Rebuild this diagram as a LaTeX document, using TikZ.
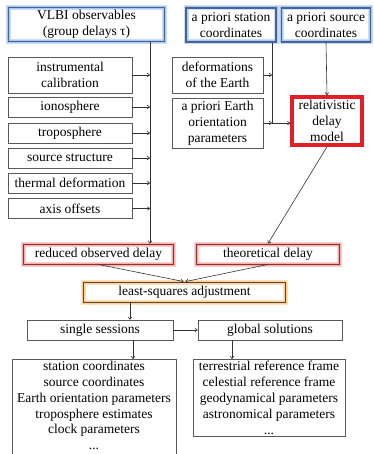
\documentclass[tikz,border=0pt]{standalone}
\usepackage{fontspec}
\setmainfont{Liberation Serif}
\usetikzlibrary{arrows.meta}
\definecolor{glowblue}{RGB}{170,200,240}
\definecolor{edgeblue}{RGB}{70,100,150}
\definecolor{glowred}{RGB}{245,175,175}
\definecolor{edgered}{RGB}{140,50,50}
\definecolor{gloworange}{RGB}{250,205,150}
\definecolor{edgeorange}{RGB}{90,75,60}
\definecolor{modelred}{RGB}{228,30,38}
\tikzset{
  plainbox/.style={draw=black!65, line width=0.6pt, align=center, inner sep=1pt},
  inputbox/.style={plainbox, draw=edgeblue, line width=1.2pt,
    preaction={draw=glowblue!60, line width=5pt},
    preaction={draw=glowblue, line width=3pt}},
  delaybox/.style={plainbox, draw=edgered, line width=0.9pt,
    preaction={draw=glowred!60, line width=5pt},
    preaction={draw=glowred, line width=3pt}},
  adjbox/.style={plainbox, draw=edgeorange, line width=0.9pt,
    preaction={draw=gloworange!60, line width=5pt},
    preaction={draw=gloworange, line width=3pt}},
  modelbox/.style={plainbox, draw=modelred, line width=3.5pt},
  flow/.style={-{To[length=3pt,width=4pt]}, black!80, line width=0.6pt}
}
\begin{document}
\begin{tikzpicture}[x=1pt,y=-1pt,font=\fontsize{13.5}{15.8}\selectfont]
  \clip (0,0) rectangle (373,454);
  \useasboundingbox (0,0) rectangle (373,454);
  % inputs
  \node[inputbox, minimum width=156, minimum height=34] (vlbi) at (86.5,24.5)
    {VLBI observables\\(group delays τ)};
  \node[inputbox, minimum width=90, minimum height=34] (stacrd) at (231,25)
    {a priori station\\coordinates};
  \node[inputbox, minimum width=89, minimum height=34] (srccrd) at (326,25)
    {a priori source\\coordinates};
  % corrections
  \node[plainbox, minimum width=124, minimum height=36] (instr) at (70,75)
    {instrumental\\calibration};
  \node[plainbox, minimum width=124, minimum height=20] (iono) at (70,107) {ionosphere};
  \node[plainbox, minimum width=124, minimum height=20] (tropo) at (70,133) {troposphere};
  \node[plainbox, minimum width=124, minimum height=20] (srcstr) at (70,158) {source structure};
  \node[plainbox, minimum width=124, minimum height=20] (thermal) at (70,183) {thermal deformation};
  \node[plainbox, minimum width=124, minimum height=20] (axis) at (70,208.5) {axis offsets};
  % model
  \node[plainbox, minimum width=91, minimum height=36] (deform) at (217.5,75)
    {deformations\\of the Earth};
  \node[plainbox, minimum width=91, minimum height=50] (eop) at (217.5,123)
    {a priori Earth\\orientation\\parameters};
  \node[modelbox, minimum width=70, minimum height=48] (reldel) at (327,121)
    {relativistic\\delay\\model};
  % delays and adjustment
  \node[delaybox, minimum width=150, minimum height=20] (reduced) at (98.5,254)
    {reduced observed delay};
  \node[delaybox, minimum width=143, minimum height=20] (theo) at (268,254)
    {theoretical delay};
  \node[adjbox, minimum width=202, minimum height=20] (lsq) at (184.5,292)
    {least-squares adjustment};
  % solutions
  \node[plainbox, minimum width=146, minimum height=20] (single) at (100,330) {single sessions};
  \node[plainbox, minimum width=144, minimum height=20] (global) at (270,330) {global solutions};
  \node[plainbox, anchor=north, minimum width=164, inner sep=2pt] (ressingle) at (94,359)
    {station coordinates\\source coordinates\\Earth orientation parameters\\
     troposphere estimates\\clock parameters\\...\\[2pt]};
  \node[plainbox, anchor=north, minimum width=152, inner sep=2pt] (resglobal) at (269,359)
    {terrestrial reference frame\\celestial reference frame\\
     geodynamical parameters\\astronomical parameters\\...};
  % connectors
  \coordinate (trunk) at (150,0);
  \coordinate (statrunk) at (272,0);
  \draw[flow] (vlbi.south -| trunk) -- (reduced.north -| trunk);
  \foreach \corr in {instr,iono,tropo,srcstr,thermal,axis}
    \draw[flow] (\corr.east) -- (\corr.east -| trunk);
  \draw[flow] (stacrd.south -| statrunk) -- (eop.east -| statrunk) -- (eop.east -| reldel.west);
  \draw[flow] (deform.east) -- (deform.east -| statrunk);
  \draw[flow] (eop.east) -- (eop.east -| statrunk);
  \draw[flow] (srccrd.south) -- (reldel.north);
  \draw[flow] (reldel.south) -- (theo.north);
  \draw[flow] (reduced.south) -- ([xshift=-1]lsq.north);
  \draw[flow] (theo.south) -- ([xshift=1]lsq.north);
  \coordinate (lsqout) at (130,0);
  \draw[flow] (lsq.south -| lsqout) -- (single.north -| lsqout);
  \draw[flow] (single.east) -- (global.west);
  \coordinate (sglout) at (133,0);
  \coordinate (glbout) at (232,0);
  \draw[flow] (single.south -| sglout) -- (ressingle.north -| sglout);
  \draw[flow] (global.south -| glbout) -- (resglobal.north -| glbout);
\end{tikzpicture}
\end{document}
